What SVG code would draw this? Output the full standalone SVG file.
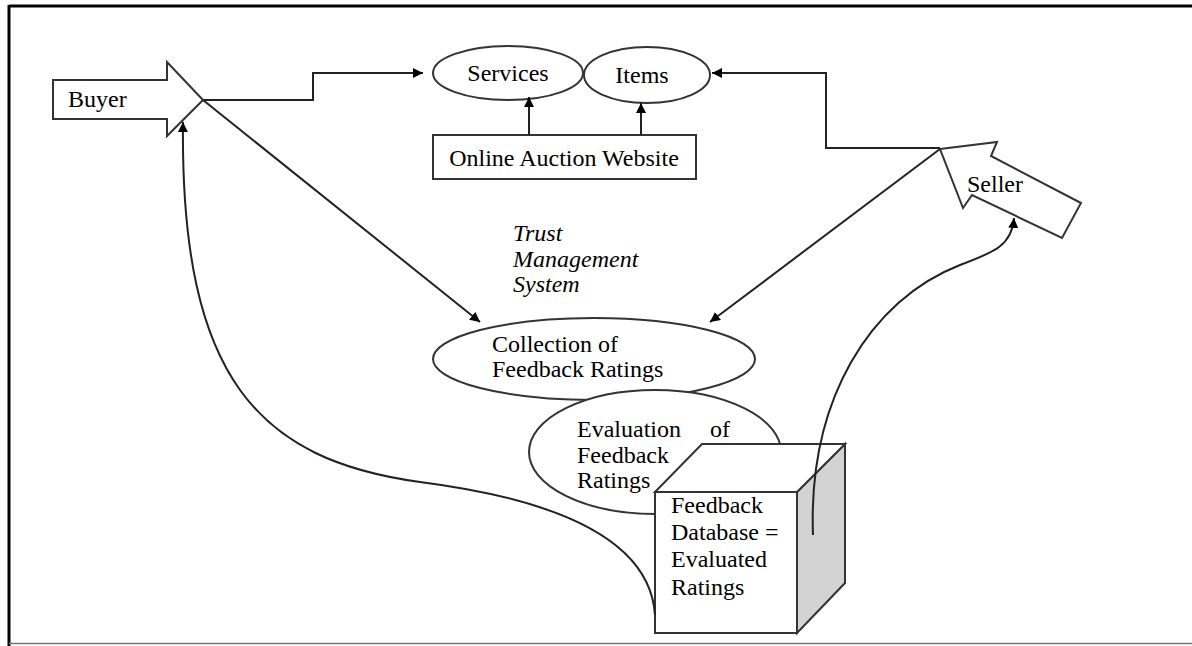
<svg xmlns="http://www.w3.org/2000/svg" width="1192" height="646" viewBox="0 0 1192 646">
<style>
.shape{fill:#fff;stroke:#333;stroke-width:2}
.line{fill:none;stroke:#222;stroke-width:2}
.t{font-family:"Liberation Serif","Times New Roman",serif;font-size:24px;fill:#000}
.i{font-style:italic}
</style>
<defs>
<marker id="ah" viewBox="0 0 10 10" refX="10" refY="5" markerWidth="10" markerHeight="10" markerUnits="userSpaceOnUse" orient="auto">
<path d="M0,0 L10,5 L0,10 z" fill="#000"/>
</marker>
</defs>
<rect x="0" y="0" width="1192" height="646" fill="#fff"/>
<g id="frame">
<line x1="9" y1="6" x2="1192" y2="6" stroke="#000" stroke-width="3"/>
<line x1="9" y1="5" x2="9" y2="646" stroke="#000" stroke-width="3"/>
<line x1="9" y1="643.5" x2="1192" y2="643.5" stroke="#777" stroke-width="1.5"/>
</g>
<g id="buyer">
<polygon class="shape" points="53,80 167,80 167,62 203,100 167,136 167,119 53,119"/>
<text class="t" x="68" y="107">Buyer</text>
</g>
<g id="services">
<ellipse class="shape" cx="508" cy="73" rx="75" ry="27"/>
<text class="t" x="508" y="81" text-anchor="middle">Services</text>
</g>
<g id="items">
<ellipse class="shape" cx="647" cy="75" rx="63" ry="28"/>
<text class="t" x="642" y="83" text-anchor="middle">Items</text>
</g>
<g id="website">
<rect class="shape" x="433" y="135" width="263" height="44"/>
<text class="t" x="564" y="166" text-anchor="middle" font-size="23">Online Auction Website</text>
</g>
<g id="seller">
<polygon class="shape" points="940,149 997,142 991,156 1081,203 1062,238 972,195 963,208"/>
<text class="t" x="967" y="192" font-size="23">Seller</text>
</g>
<g id="tms">
<text class="t i" x="513" y="241">Trust</text>
<text class="t i" x="513" y="267">Management</text>
<text class="t i" x="513" y="292">System</text>
</g>
<g id="collection">
<ellipse class="shape" cx="594" cy="359" rx="161" ry="41"/>
<text class="t" x="492" y="352">Collection of</text>
<text class="t" x="492" y="377">Feedback Ratings</text>
</g>
<g id="evaluation">
<ellipse class="shape" cx="655" cy="452" rx="126" ry="62"/>
<text class="t" x="577" y="437">Evaluation</text>
<text class="t" x="710" y="437">of</text>
<text class="t" x="577" y="463">Feedback</text>
<text class="t" x="577" y="488">Ratings</text>
</g>
<g id="database">
<polygon points="797,492 845,444 845,583 797,633" fill="#d3d3d3" stroke="#333" stroke-width="2"/>
<polygon class="shape" points="655,492 702,444 845,444 797,492"/>
<rect class="shape" x="655" y="492" width="142" height="141"/>
<text class="t" x="671" y="513">Feedback</text>
<text class="t" x="671" y="540">Database =</text>
<text class="t" x="671" y="567">Evaluated</text>
<text class="t" x="671" y="595">Ratings</text>
</g>
<g id="connectors">
<polyline class="line" points="203,100 313,100 313,73 423,73" marker-end="url(#ah)"/>
<polyline class="line" points="940,148 826,148 826,73 712,73" marker-end="url(#ah)"/>
<line class="line" x1="529" y1="135" x2="529" y2="97" marker-end="url(#ah)"/>
<line class="line" x1="641" y1="135" x2="641" y2="103" marker-end="url(#ah)"/>
<line class="line" x1="203" y1="100" x2="480" y2="322" marker-end="url(#ah)"/>
<line class="line" x1="940" y1="149" x2="710" y2="322" marker-end="url(#ah)"/>
<path class="line" d="M655,615 C650,540 560,500 420,482 C260,460 180,380 183,122" marker-end="url(#ah)"/>
<path class="line" d="M813,535 C808,400 870,300 960,265 C995,252 1012,245 1014,218" marker-end="url(#ah)"/>
</g>
</svg>
